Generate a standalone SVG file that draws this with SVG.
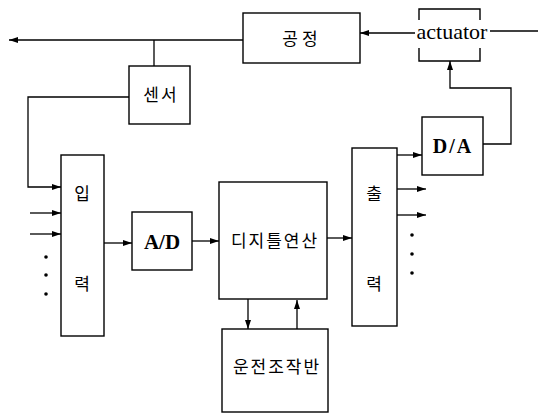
<svg xmlns="http://www.w3.org/2000/svg" width="538" height="414" viewBox="0 0 538 414">
<defs>
<marker id="arr" markerUnits="userSpaceOnUse" markerWidth="9" markerHeight="7" refX="9" refY="3.5" orient="auto">
<path d="M0,0.5 L9,3.5 L0,6.5 z" fill="#000"/>
</marker>
<style>
.box{fill:none;stroke:#000;stroke-width:1.4}
.ln{fill:none;stroke:#000;stroke-width:1.3}
.ar{marker-end:url(#arr)}
.ko{font-family:"Noto Sans CJK KR","Noto Sans",sans-serif;font-size:17px;fill:#000;text-anchor:middle}
.la{font-family:"Liberation Serif",serif;fill:#000;text-anchor:middle}
.dot{fill:#000}
</style>
</defs>
<g id="process"><rect class="box" x="243" y="13" width="117" height="50"/><text class="ko" x="302" y="45" font-size="18" letter-spacing="4">공정</text></g>
<g id="sensor"><rect class="box" x="129" y="66" width="61" height="58"/><text class="ko" x="161" y="101" font-size="16" letter-spacing="2">센서</text></g>
<g id="input"><rect class="box" x="61" y="155" width="43" height="181"/><text class="ko" x="82" y="200" font-size="16">입</text><text class="ko" x="82" y="290" font-size="16">력</text></g>
<g id="ad"><rect class="box" x="132" y="212" width="60" height="58"/><text class="la" x="162" y="249" font-size="21" font-weight="bold">A/D</text></g>
<g id="digital"><rect class="box" x="219" y="182" width="108" height="117"/><text class="ko" x="275" y="247" letter-spacing="2">디지틀연산</text></g>
<g id="output"><rect class="box" x="352" y="148" width="45" height="178"/><text class="ko" x="374" y="200" font-size="16">출</text><text class="ko" x="374" y="290" font-size="16">력</text></g>
<g id="da"><rect class="box" x="422" y="117" width="61" height="58"/><text class="la" x="453" y="153" font-size="20" font-weight="bold" letter-spacing="2">D/A</text></g>
<g id="panel"><rect class="box" x="222" y="329" width="106" height="83"/><text class="ko" x="277" y="373" font-size="16" letter-spacing="2">운전조작반</text></g>
<g id="actuator"><path class="box" d="M419,20 V9 H480 V20 M419,48 V61 H480 V48"/><text class="la" x="452" y="39" font-size="22">actuator</text></g>
<g id="connectors">
<path class="ln ar" d="M243,40 H9"/>
<path class="ln" d="M154,40 V66"/>
<path class="ln ar" d="M129,97 H28 V187 H61"/>
<path class="ln ar" d="M30,213 H61"/>
<path class="ln ar" d="M30,234 H61"/>
<path class="ln ar" d="M104,243 H132"/>
<path class="ln ar" d="M192,241 H219"/>
<path class="ln ar" d="M327,238 H352"/>
<path class="ln ar" d="M397,155 H422"/>
<path class="ln ar" d="M397,189 H426"/>
<path class="ln ar" d="M397,215 H426"/>
<path class="ln ar" d="M483,144 H511 V88 H450 V61"/>
<path class="ln ar" d="M415,33 H360"/>
<path class="ln" d="M490,31 H538"/>
<path class="ln ar" d="M248,299 V329"/>
<path class="ln ar" d="M297,329 V300"/>
<circle class="dot" cx="46" cy="257" r="1.8"/><circle class="dot" cx="46" cy="275" r="1.8"/><circle class="dot" cx="46" cy="294" r="1.8"/>
<circle class="dot" cx="412" cy="235" r="1.8"/><circle class="dot" cx="412" cy="254" r="1.8"/><circle class="dot" cx="412" cy="273" r="1.8"/>
</g>
</svg>
